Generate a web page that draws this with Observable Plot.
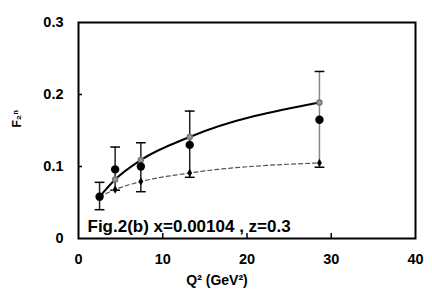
<!DOCTYPE html>
<html>
<head>
<meta charset="utf-8">
<script src="https://cdn.jsdelivr.net/npm/d3@7"></script>
<script src="https://cdn.jsdelivr.net/npm/@observablehq/plot@0.6"></script>
<style>
  html, body { margin: 0; padding: 0; background: #fff; }
  #chart svg { display: block; }
</style>
</head>
<body>
<div id="chart"></div>
<script>
// Data
const q2 = [2.5, 4.35, 7.4, 13.2, 28.6];
const f2 = [0.058, 0.096, 0.100, 0.130, 0.165];
const errHi = [0.078, 0.127, 0.133, 0.177, 0.232];
const errLo = [0.040, 0.067, 0.065, 0.085, 0.099];
const modelSolid = [0.058, 0.082, 0.109, 0.141, 0.189];
const modelDashed = [0.058, 0.068, 0.079, 0.091, 0.105];
const xTicks = [0, 10, 20, 30, 40];
const yTicks = [0, 0.1, 0.2, 0.3];
const annotation = "Fig.2(b) x=0.00104 , z=0.3";

const pts = q2.map((x, i) => ({x, y: f2[i], lo: errLo[i], hi: errHi[i], s: modelSolid[i], d: modelDashed[i], last: i === q2.length - 1}));
const font = "Liberation Sans, Arial, sans-serif";

// horizontal-line symbol for error-bar caps
const capSymbol = {
  draw(context, size) {
    const w = Math.sqrt(size) / 2;
    context.moveTo(-w, 0);
    context.lineTo(w, 0);
  }
};

const chart = Plot.plot({
  width: 432,
  height: 297,
  marginLeft: 78,
  marginRight: 17,
  marginTop: 22,
  marginBottom: 59,
  style: {fontFamily: font, background: "#fff"},
  x: {type: "linear", domain: [0, 40]},
  y: {type: "linear", domain: [0, 0.3]},
  marks: [
    Plot.axisX({ticks: xTicks, tickSize: 0, tickPadding: 15, fontSize: 14.5, fontWeight: "bold", label: null}),
    Plot.axisY({ticks: yTicks, tickSize: 0, tickPadding: 15, fontSize: 14.5, fontWeight: "bold", label: null,
      tickFormat: d => d === 0 ? "0" : d3.format(".1f")(d)}),
    Plot.axisX({ticks: [10, 20, 30], tickSize: 5, dy: -5, text: null, label: null, stroke: "black", strokeWidth: 1.5}),
    Plot.axisY({ticks: [0.1, 0.2], tickSize: 4, dx: 4, text: null, label: null, stroke: "black", strokeWidth: 1.5}),
    Plot.ruleX(pts, {x: "x", y1: "lo", y2: "hi", stroke: d => d.last ? "#888" : "#222", strokeWidth: 1.5}),
    Plot.dot(pts, {x: "x", y: "hi", symbol: capSymbol, r: 5.5, stroke: "black", strokeWidth: 1.5, fill: "none"}),
    Plot.dot(pts, {x: "x", y: "lo", symbol: capSymbol, r: 5.5, stroke: "black", strokeWidth: 1.5, fill: "none"}),
    Plot.line(pts, {x: "x", y: "d", curve: "monotone-x", stroke: "#555", strokeWidth: 1.2, strokeDasharray: "4,3"}),
    Plot.line(pts, {x: "x", y: "s", curve: "monotone-x", stroke: "black", strokeWidth: 2}),
    Plot.dot(pts, {x: "x", y: "d", symbol: "diamond", r: 2.5, fill: "black"}),
    Plot.dot(pts, {x: "x", y: "s", r: 2.5, fill: "#999", stroke: "#777"}),
    Plot.dot(pts, {x: "x", y: "y", r: 4.2, fill: "black"}),
    Plot.text([annotation], {frameAnchor: "bottom-left", dx: 9, dy: -7, textAnchor: "start", fontSize: 17, fontWeight: "bold", fill: "black"}),
    Plot.text(["F\u2082\u207F"], {frameAnchor: "left", dx: -61, dy: -3, rotate: -90, fontSize: 12, fontWeight: "bold", fill: "black"}),
    Plot.text(["Q\u00B2 (GeV\u00B2)"], {frameAnchor: "bottom", dx: -30, dy: 46, fontSize: 14, fontWeight: "bold", fill: "black"}),
    Plot.frame({stroke: "black", strokeWidth: 2})
  ]
});

document.getElementById("chart").append(chart);
</script>
</body>
</html>
